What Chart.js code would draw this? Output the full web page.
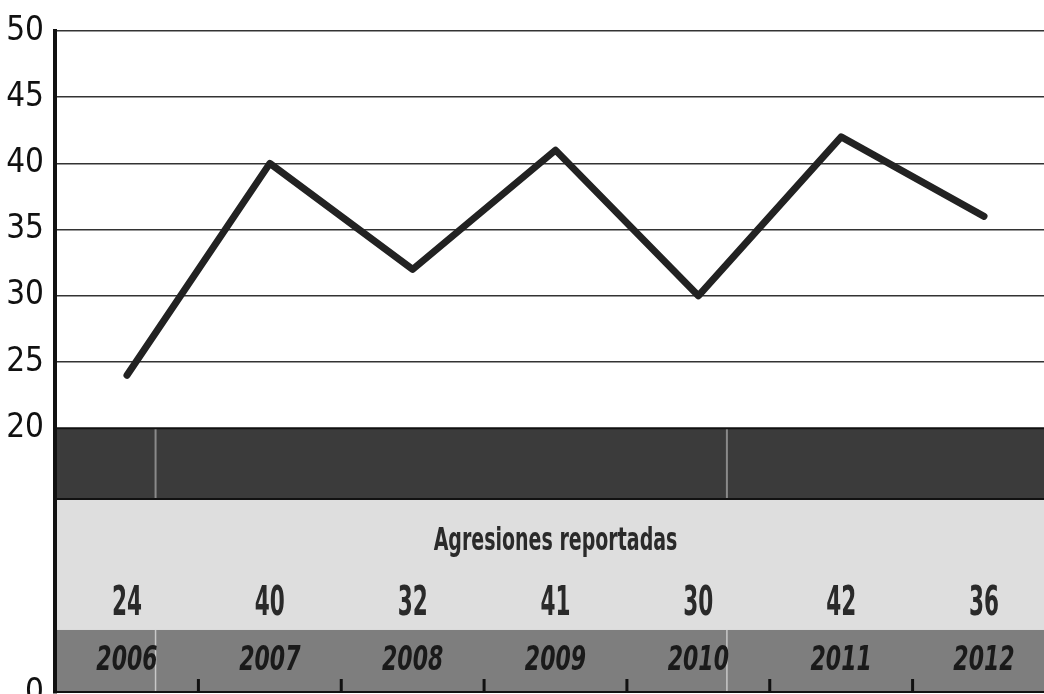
<!DOCTYPE html>
<html>
<head>
<meta charset="utf-8">
<script src="https://cdn.jsdelivr.net/npm/chart.js@4.4.1/dist/chart.umd.min.js"></script>
<style>
  html, body { margin: 0; padding: 0; background: #fff; }
  #wrap { width: 1044px; height: 694px; }
</style>
</head>
<body>
<div id="wrap"><canvas id="LineChart" width="1044" height="694"></canvas></div>
<script>
var years = [2006, 2007, 2008, 2009, 2010, 2011, 2012];
var yearLabels = ["2006", "2007", "2008", "2009", "2010", "2011", "2012"];
var agresiones = [24, 40, 32, 41, 30, 42, 36];
var yTicks = [0, 20, 25, 30, 35, 40, 45, 50];
var rowTitle = "Agresiones reportadas";

var narrow = "'DejaVu Sans Condensed', 'Liberation Sans Narrow', sans-serif";

var points = [];
for (var i = 0; i < years.length; i++) {
    points.push({ x: years[i], y: agresiones[i] });
}

// squeeze text horizontally, the original uses a very condensed face
function narrowText(ctx, txt, x, y, sx) {
    ctx.save();
    ctx.translate(x, y);
    ctx.scale(sx, 1);
    ctx.fillText(txt, 0, 0);
    ctx.restore();
}

// bands under the 20 line: dark strip, light table row, speckled year row
var tablePlugin = {
    id: "tablePlugin",
    beforeDraw: function(chart) {
        var ctx = chart.ctx;
        var xs = chart.scales.x;
        var ys = chart.scales.y;
        var left = chart.chartArea.left;
        var right = chart.chartArea.right;
        var yTop = ys.getPixelForValue(20);
        var yMid = ys.getPixelForValue(14.65);
        var yLow = ys.getPixelForValue(4.76);
        var yBot = ys.getPixelForValue(0);

        ctx.save();
        ctx.fillStyle = "#3b3b3b";
        ctx.fillRect(left, yTop, right - left, yMid - yTop);
        ctx.fillStyle = "#dedede";
        ctx.fillRect(left, yMid, right - left, yLow - yMid);
        ctx.fillStyle = "#7e7e7e";
        ctx.fillRect(left, yLow, right - left, yBot - yLow);

        // decorative dividers
        ctx.strokeStyle = "#8a8a8a";
        ctx.lineWidth = 2;
        [2006.2, 2010.2].forEach(function(v) {
            var px = xs.getPixelForValue(v);
            ctx.beginPath();
            ctx.moveTo(px, yTop);
            ctx.lineTo(px, yMid);
            ctx.stroke();
        });
        ctx.strokeStyle = "#c8c8c8";
        ctx.lineWidth = 1.5;
        [2006.2, 2010.2].forEach(function(v) {
            var px = xs.getPixelForValue(v);
            ctx.beginPath();
            ctx.moveTo(px, yLow);
            ctx.lineTo(px, yBot);
            ctx.stroke();
        });

        ctx.strokeStyle = "#111";
        ctx.lineWidth = 2;
        [yTop, yMid, yBot - 1].forEach(function(py) {
            ctx.beginPath();
            ctx.moveTo(left, py);
            ctx.lineTo(right, py);
            ctx.stroke();
        });

        // small ticks between years
        ctx.lineWidth = 3;
        for (var i = 0; i < years.length - 1; i++) {
            var tx = xs.getPixelForValue((years[i] + years[i + 1]) / 2);
            ctx.beginPath();
            ctx.moveTo(tx, yBot);
            ctx.lineTo(tx, yBot - 14);
            ctx.stroke();
        }

        // texts
        ctx.fillStyle = "#2a2a2a";
        ctx.textAlign = "center";
        ctx.textBaseline = "alphabetic";
        ctx.font = "bold 32px " + narrow;
        narrowText(ctx, rowTitle, xs.getPixelForValue(years[3]), ys.getPixelForValue(10.8), 0.66);

        ctx.font = "bold 40px " + narrow;
        for (var j = 0; j < years.length; j++) {
            narrowText(ctx, String(agresiones[j]), xs.getPixelForValue(years[j]), ys.getPixelForValue(5.9), 0.6);
        }

        ctx.fillStyle = "#1a1a1a";
        ctx.font = "italic bold 34px " + narrow;
        for (var k = 0; k < years.length; k++) {
            narrowText(ctx, yearLabels[k], xs.getPixelForValue(years[k]), ys.getPixelForValue(1.7), 0.72);
        }
        ctx.restore();
    }
};

var c = document.getElementById("LineChart");
var lineChart = new Chart(c, {
    type: "line",
    data: {
        datasets: [{
            label: rowTitle,
            data: points,
            borderColor: "#222",
            borderWidth: 7,
            borderCapStyle: "round",
            borderJoinStyle: "round",
            pointRadius: 0,
            tension: 0,
            fill: false
        }]
    },
    options: {
        responsive: false,
        animation: false,
        layout: { padding: { top: 31, right: 0, bottom: 1, left: 0 } },
        plugins: {
            legend: { display: false },
            tooltip: { enabled: false }
        },
        scales: {
            x: {
                type: "linear",
                min: 2005.496,
                max: 2012.42,
                display: false
            },
            y: {
                min: 0,
                max: 50,
                afterBuildTicks: function(scale) {
                    scale.ticks = yTicks.map(function(v) { return { value: v }; });
                },
                afterFit: function(scale) {
                    scale.width = 55;
                    scale.paddingTop = 0;
                    scale.paddingBottom = 0;
                },
                border: { display: true, color: "#111", width: 4 },
                grid: {
                    drawTicks: false,
                    lineWidth: 1.5,
                    color: function(ctx) {
                        return ctx.tick && ctx.tick.value >= 25 ? "#333" : "rgba(0,0,0,0)";
                    }
                },
                ticks: {
                    padding: 11,
                    color: "#111",
                    font: { family: narrow, size: 33 }
                }
            }
        }
    },
    plugins: [tablePlugin]
});
</script>
</body>
</html>
